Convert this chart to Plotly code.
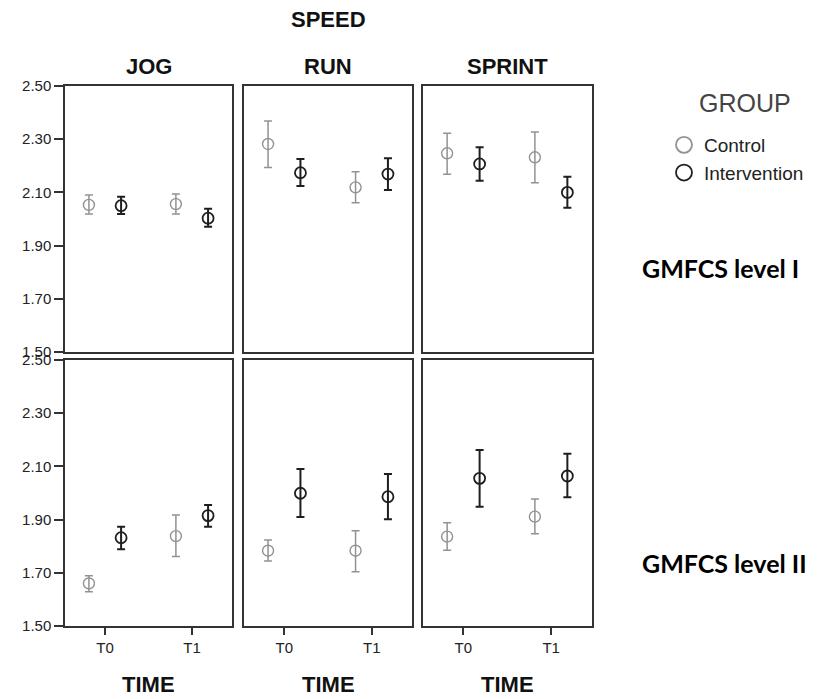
import plotly.graph_objects as go

speeds = ["JOG", "RUN", "SPRINT"]
times = ["T0", "T1"]
levels = ["GMFCS level I", "GMFCS level II"]
groups = ["Control", "Intervention"]
y_ticks = [1.50, 1.70, 1.90, 2.10, 2.30, 2.50]

# values per speed: [T0, T1]
ctrl_mean_I = [[2.053, 2.056], [2.282, 2.119], [2.247, 2.232]]
ctrl_low_I = [[2.019, 2.019], [2.194, 2.061], [2.168, 2.136]]
ctrl_high_I = [[2.090, 2.094], [2.368, 2.178], [2.322, 2.327]]
int_mean_I = [[2.050, 2.003], [2.174, 2.169], [2.207, 2.100]]
int_low_I = [[2.019, 1.971], [2.124, 2.109], [2.144, 2.042]]
int_high_I = [[2.084, 2.039], [2.226, 2.228], [2.270, 2.159]]

ctrl_mean_II = [[1.660, 1.838], [1.783, 1.783], [1.836, 1.911]]
ctrl_low_II = [[1.629, 1.761], [1.744, 1.704], [1.785, 1.847]]
ctrl_high_II = [[1.689, 1.917], [1.823, 1.858], [1.888, 1.977]]
int_mean_II = [[1.832, 1.915], [1.999, 1.986], [2.055, 2.064]]
int_low_II = [[1.789, 1.873], [1.910, 1.901], [1.948, 1.984]]
int_high_II = [[1.873, 1.955], [2.090, 2.071], [2.162, 2.148]]

W, H = 829, 699
FONT = "Liberation Sans, Arial, sans-serif"
CTRL_COLOR = "#929292"
INT_COLOR = "#1e1e1e"

# panel pixel boxes
col_px = [(65, 232), (244, 412), (423, 591.5)]
row_px = [(86, 352), (360, 626)]

data = {
    0: {"Control": (ctrl_mean_I, ctrl_low_I, ctrl_high_I),
        "Intervention": (int_mean_I, int_low_I, int_high_I)},
    1: {"Control": (ctrl_mean_II, ctrl_low_II, ctrl_high_II),
        "Intervention": (int_mean_II, int_low_II, int_high_II)},
}
offsets = {"Control": -0.185, "Intervention": 0.185}
styles = {"Control": (CTRL_COLOR, 1.4, 1.5), "Intervention": (INT_COLOR, 1.8, 2.0)}

fig = go.Figure()
layout = {}
idx = 0
for r in range(2):
    for c in range(3):
        idx += 1
        xa = "x" if idx == 1 else f"x{idx}"
        ya = "y" if idx == 1 else f"y{idx}"
        xkey = "xaxis" if idx == 1 else f"xaxis{idx}"
        ykey = "yaxis" if idx == 1 else f"yaxis{idx}"
        x0, x1 = col_px[c]
        y0, y1 = row_px[r]
        layout[xkey] = dict(
            domain=[x0 / W, x1 / W], anchor=ya, range=[-0.46, 1.46],
            tickmode="array", tickvals=[0, 1], ticktext=times,
            showticklabels=(r == 1), ticks="outside" if r == 1 else "",
            ticklen=7, tickwidth=1.5, tickcolor="#333",
            showline=True, mirror=True, linecolor="#333", linewidth=1.5,
            showgrid=False, zeroline=False, automargin=False,
            tickfont=dict(family=FONT, size=15, color="#222"),
        )
        layout[ykey] = dict(
            domain=[1 - y1 / H, 1 - y0 / H], anchor=xa, range=[1.5, 2.5],
            tickmode="array", tickvals=y_ticks,
            ticktext=[f"{v:.2f}" for v in y_ticks],
            showticklabels=(c == 0), ticks="outside" if c == 0 else "",
            ticklen=9, tickwidth=1.5, tickcolor="#333",
            showline=True, mirror=True, linecolor="#333", linewidth=1.5,
            showgrid=False, zeroline=False, automargin=False,
            tickfont=dict(family=FONT, size=15, color="#222"),
        )
        for g in groups:
            mean, low, high = data[r][g]
            m = mean[c]
            lo = low[c]
            hi = high[c]
            color, mlw, elw = styles[g]
            fig.add_trace(go.Scatter(
                x=[i + offsets[g] for i in range(len(times))],
                y=m, mode="markers", xaxis=xa, yaxis=ya,
                name=g, legendgroup=g, showlegend=False,
                marker=dict(symbol="circle-open", size=11, color=color,
                            line=dict(width=mlw, color=color)),
                error_y=dict(type="data", symmetric=False,
                             array=[h - v for h, v in zip(hi, m)],
                             arrayminus=[v - l for v, l in zip(m, lo)],
                             color=color, thickness=elw, width=4),
                hovertemplate=f"{speeds[c]} {levels[r]} {g}<br>%{{y:.2f}}<extra></extra>",
            ))

# legend entries
for g in groups:
    color, mlw, elw = styles[g]
    fig.add_trace(go.Scatter(
        x=[None], y=[None], mode="markers", name=g, legendgroup=g,
        marker=dict(symbol="circle-open", size=16, color=color,
                    line=dict(width=1.8, color=color)),
        showlegend=True,
    ))

ann = []
def px_ann(text, x, y, size, bold=False, color="#111", family=FONT, xanchor="center"):
    ann.append(dict(
        text=f"<b>{text}</b>" if bold else text, x=x / W, y=1 - y / H,
        xref="paper", yref="paper", showarrow=False, xanchor=xanchor,
        yanchor="middle", font=dict(family=family, size=size, color=color)))

px_ann("SPEED", 328, 20, 22, bold=True)
for c, s in enumerate(speeds):
    cx = (col_px[c][0] + col_px[c][1]) / 2
    px_ann(s, cx, 67, 22, bold=True)
    px_ann("TIME", cx, 684, 22, bold=True)
px_ann("GROUP", 745, 103, 25, color="#444")
px_ann(levels[0], 640, 268, 25, bold=True, color="#000", family="Lato, Open Sans, sans-serif", xanchor="left")
px_ann(levels[1], 640, 563, 25, bold=True, color="#000", family="Lato, Open Sans, sans-serif", xanchor="left")

fig.update_layout(
    **layout,
    width=W, height=H,
    margin=dict(l=0, r=0, t=0, b=0, pad=0, autoexpand=False),
    paper_bgcolor="white", plot_bgcolor="white",
    annotations=ann,
    showlegend=True,
    legend=dict(
        x=664 / W, y=1 - 126 / H, xanchor="left", yanchor="top",
        bgcolor="rgba(0,0,0,0)", borderwidth=0, itemwidth=30,
        font=dict(family=FONT, size=19, color="#222"),
        tracegroupgap=0,
    ),
)

fig.write_html("out.html", config={"displayModeBar": False},
               post_script="document.body.style.margin='0';document.body.style.padding='0';")
